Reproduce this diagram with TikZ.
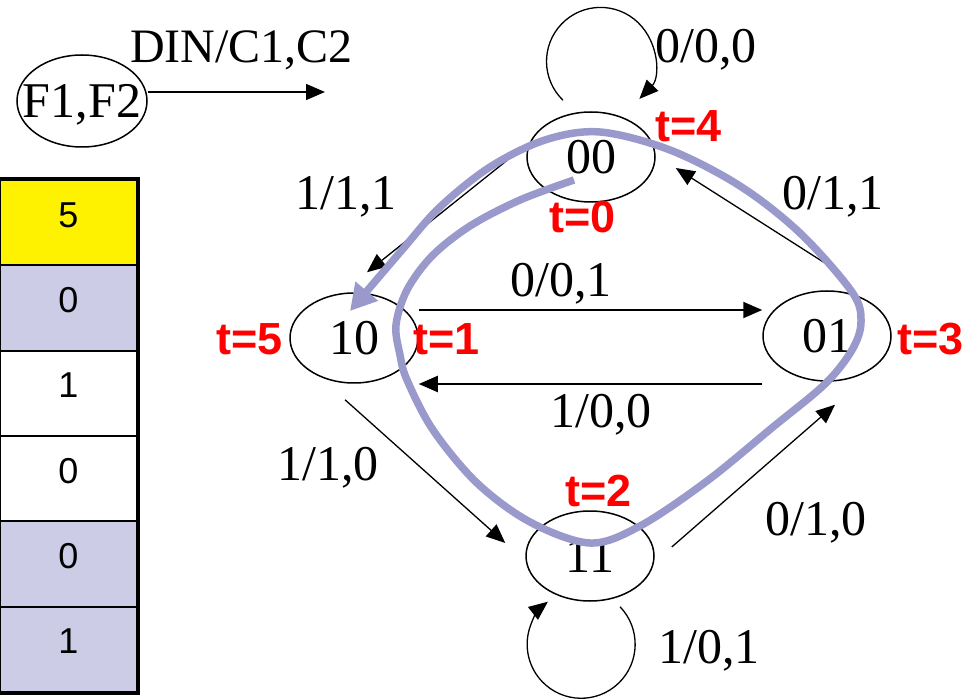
\documentclass[tikz,border=0pt]{standalone}
\usepackage{fontspec}
\setmainfont{Liberation Serif}
\newfontfamily\arialfont{Liberation Sans}
\usetikzlibrary{shapes.geometric,arrows.meta}
\definecolor{traceblue}{RGB}{153,153,204}
\definecolor{cellblue}{RGB}{204,204,230}
\begin{document}
\begin{tikzpicture}[x=1pt,y=-1pt,
    state node/.style={ellipse,draw,line width=1.5pt,minimum width=128pt,minimum height=90pt,inner sep=0pt,text depth=0pt,font=\fontsize{50}{55}\selectfont},
    edge/.style={line width=1.3pt,-{Triangle[length=19pt,width=16pt]}},
    label node/.style={anchor=base west,inner sep=0pt,font=\fontsize{50}{55}\selectfont},
    time node/.style={anchor=base west,inner sep=0pt,text=red,font=\arialfont\bfseries\fontsize{45}{48}\selectfont},
    cell/.style={draw,line width=2pt,minimum width=137pt,minimum height=85.33pt,inner sep=0pt,text depth=16pt,font=\arialfont\fontsize{36}{40}\selectfont},
    trace/.style={line width=7.5pt,traceblue,-{Triangle[length=26pt,width=28pt]}}]

    \useasboundingbox (0,0) rectangle (975,700);

    % Table
    \foreach \v/\c [count=\i] in {5/yellow,0/cellblue,1/white,0/white,0/cellblue,1/cellblue}
        \node[cell,fill=\c] (cell\i) at (68.5,{180+85.33*(\i-0.5)}) {\v};
    \draw[line width=4pt] (cell1.north west) rectangle (cell6.south east);

    % Legend
    \node[state node,minimum width=130pt,minimum height=92pt,inner xsep=-15pt] (legend) at (82,101) {F1,F2};
    \coordinate (legendEnd) at (325,92);
    \draw[edge,line width=1.5pt] (legend.east |- legendEnd) -- (legendEnd);
    \node[label node,font=\fontsize{48}{52}\selectfont] (din) at (130,63) {DIN/C1,C2};

    % Define vertices
    \node[state node] (s00) at (591,157) {00};
    \node[state node] (s10) at (354,338) {10};
    \node[state node] (s01) at (827,336) {01};
    \node[state node] (s11) at (590,556) {11};

    % Self loops
    \draw[edge] ([xshift=-28pt,yshift=11pt]s00.north) arc[start angle=134,end angle=404,radius=54];
    \draw[edge] ([xshift=30pt,yshift=-5pt]s11.south) arc[start angle=-44,end angle=232,radius=54];

    % Transitions
    \draw[edge] ([yshift=12pt]s00.west) -- ([xshift=13pt,yshift=20pt]s10.north);
    \draw[edge,line width=2pt] ([yshift=28pt]s10.east) -- ([yshift=28pt]s10.east -| s01.west);
    \draw[edge,line width=2pt] ([yshift=-48pt]s01.west) -- ([yshift=-48pt]s01.west -| s10.east);
    \draw[edge] ([xshift=-9pt,yshift=-16pt]s10.south) -- ([xshift=-20pt,yshift=13pt]s11.west);
    \draw[edge] ([xshift=17pt,yshift=9pt]s11.east) -- ([xshift=8pt,yshift=-23pt]s01.south);
    \draw[edge] ([xshift=3pt,yshift=24pt]s01.north) -- ([xshift=20pt,yshift=-11pt]s00.east);

    % Labels
    \node[label node] (l00) at (655,63) {0/0,0};
    \node[label node] (l0010) at (295,210) {1/1,1};
    \node[label node] (l0100) at (782,210) {0/1,1};
    \node[label node] (l1001) at (510,297) {0/0,1};
    \node[label node] (l0110) at (550,428) {1/0,0};
    \node[label node] (l1011) at (277,480) {1/1,0};
    \node[label node] (l1101) at (765,535) {0/1,0};
    \node[label node] (l11) at (658,663) {1/0,1};

    % Trace
    \draw[trace] plot[smooth,tension=0.55] coordinates {(574,180) (520,200) (470,226) (432,256) (407,290) (396,325) (400,355) (407,380) (433,430) (477,483) (530,522) (590,543) (640,526) (707,481) (773,427) (825,384) (852,350) (861,322) (852,292) (800,233) (740,186) (670,150) (600,132) (545,140) (490,167) (440,207) (402,250) (350,311)};

    \node[time node] (t0) at (549,233) {t=0};
    \node[time node] (t1) at (413,355) {t=1};
    \node[time node] (t2) at (565,507) {t=2};
    \node[time node] (t3) at (897,355) {t=3};
    \node[time node] (t4) at (655,142) {t=4};
    \node[time node] (t5) at (216,355) {t=5};

\end{tikzpicture}
\end{document}
